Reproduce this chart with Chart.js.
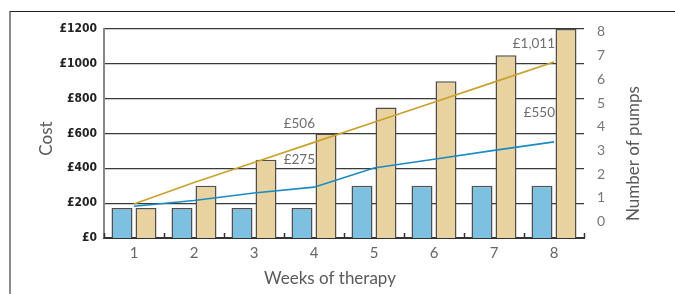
<!DOCTYPE html>
<html><head><meta charset="utf-8">
<script src="https://cdn.jsdelivr.net/npm/chart.js@4"></script>
<style>
html,body{margin:0;padding:0;background:#fff;}
#wrap{position:relative;width:675px;height:294px;}
#frame{position:absolute;left:9px;top:11px;width:666px;height:283px;border-top:1px solid #222;border-left:2px solid #8a8a8a;box-sizing:border-box;pointer-events:none;}
canvas{position:absolute;left:0;top:0;}
</style></head><body>
<div id="wrap"><canvas id="c" width="675" height="294"></canvas><div id="frame"></div></div>
<script>
// ---- data ----
const weeks = ['1','2','3','4','5','6','7','8'];
const costTicks = [0,200,400,600,800,1000,1200];
const pumpTicks = [0,1,2,3,4,5,6,7,8];
const pumpAxisMin = -0.69;
const pumpAxisMax = 8.12;
const bluePumps = [1.15,1.15,1.15,1.15,2,2,2,2];
const tanPumps  = [1.15,2,3,4,5,6,7,8];
const blueCost  = [182,215,258,292,402,452,503,552];
const goldCost  = [195,319,434,549,665,779,895,1011];
const annotationText  = ['£506','£275','£1,011','£550'];
const annotationWeek  = ['4','4','8','8'];
const annotationCost  = [657,450,1118,720];

const decor = {
  id:'decor',
  afterDatasetsDraw(chart){
    const ctx = chart.ctx, xs = chart.scales.x, a = chart.chartArea;
    ctx.save();
    ctx.strokeStyle = '#333'; ctx.lineWidth = 1.5;
    for (let i = 0; i <= weeks.length; i++) {
      const px = Math.round(xs.getPixelForValue(i - 0.5)) + 0.5;
      ctx.beginPath(); ctx.moveTo(px, a.bottom); ctx.lineTo(px, a.bottom - 5); ctx.stroke();
    }
    // value annotations
    ctx.fillStyle = '#6e6e6e';
    ctx.font = '13.5px Lato, "Open Sans", sans-serif';
    ctx.textAlign = 'right'; ctx.textBaseline = 'middle';
    const ys = chart.scales.y;
    annotationText.forEach((t, i) => {
      const px = xs.getPixelForValue(weeks.indexOf(annotationWeek[i])) + 1;
      ctx.fillText(t, px, ys.getPixelForValue(annotationCost[i]));
    });
    ctx.restore();
  },
  afterDraw(chart){
    const ctx = chart.ctx, a = chart.chartArea;
    ctx.save();
    ctx.fillStyle = '#5a5a5a';
    ctx.font = '17px Lato, "Open Sans", sans-serif';
    ctx.textAlign = 'center'; ctx.textBaseline = 'middle';
    ctx.fillText('Weeks of therapy', (a.left + a.right) / 2 - 14, 279);
    ctx.save();
    ctx.translate(47, (a.top + a.bottom) / 2 + 5);
    ctx.rotate(-Math.PI / 2);
    ctx.fillText('Cost', 0, 0);
    ctx.restore();
    ctx.save();
    ctx.translate(634, (a.top + a.bottom) / 2 + 20);
    ctx.rotate(-Math.PI / 2);
    ctx.fillText('Number of pumps', 0, 0);
    ctx.restore();
    ctx.restore();
  }
};

new Chart(document.getElementById('c'), {
  type: 'bar',
  data: {
    labels: weeks,
    datasets: [
      {type:'line', data: goldCost, yAxisID:'y', borderColor:'#C9A02A', borderWidth:1.6, pointRadius:0, tension:0, fill:false, order:0},
      {type:'line', data: blueCost, yAxisID:'y', borderColor:'#1B8AC4', borderWidth:1.6, pointRadius:0, tension:0, fill:false, order:0},
      {type:'bar', data: bluePumps, yAxisID:'yBars', backgroundColor:'#7DC0DF', borderColor:'#4f4f4f', borderWidth:1.5, barPercentage:0.875, categoryPercentage:0.8, order:1},
      {type:'bar', data: tanPumps, yAxisID:'yBars', backgroundColor:'#E8D3A0', borderColor:'#4f4f4f', borderWidth:1.5, barPercentage:0.875, categoryPercentage:0.8, order:1}
    ]
  },
  options: {
    responsive:false, animation:false, devicePixelRatio:1,
    layout:{padding:{top:29,left:0,right:0,bottom:0}},
    plugins:{legend:{display:false}, tooltip:{enabled:false}},
    scales:{
      x:{
        offset:true,
        grid:{display:false, drawTicks:false},
        border:{display:true, color:'#333', width:2},
        ticks:{color:'#666', font:{family:'Lato', size:15}, padding:6},
        afterFit(s){ s.height = 56; }
      },
      y:{
        position:'left', min:0, max:1200,
        afterBuildTicks(s){ s.ticks = costTicks.map(v => ({value:v})); },
        ticks:{callback:v => '£' + v, color:'#222', font:{family:'"DejaVu Sans Condensed", "Liberation Sans Narrow", sans-serif', size:12, weight:'bold'}, padding:7},
        grid:{color:'#3a3a3a', lineWidth:1.2, drawTicks:false},
        border:{color:'#888', width:2},
        afterFit(s){ s.width = 104; }
      },
      yBars:{display:false, min:0, max:8},
      y2:{
        position:'right', min:pumpAxisMin, max:pumpAxisMax,
        afterBuildTicks(s){ s.ticks = pumpTicks.map(v => ({value:v})); },
        grid:{display:false, drawTicks:false},
        border:{display:false},
        ticks:{color:'#777', font:{family:'Lato', size:14}, padding:13},
        afterFit(s){ s.width = 91; }
      }
    }
  },
  plugins:[decor]
});
</script>
</body></html>
